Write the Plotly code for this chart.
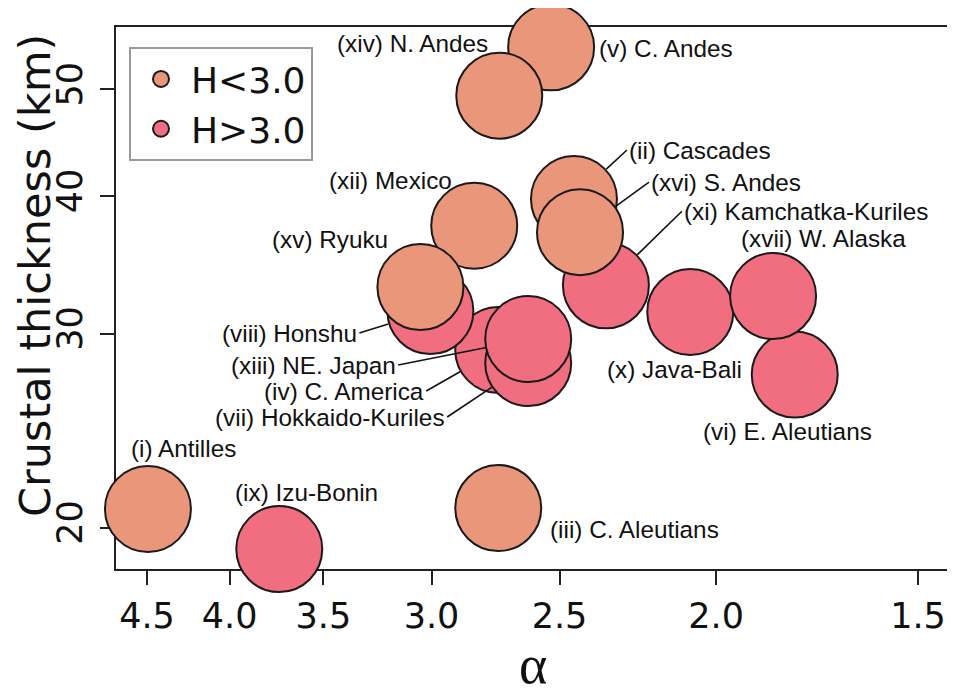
import math
import plotly.graph_objects as go

# subduction zones, listed in drawing order (pink group first, orange on top)
regions = [
    "(iv) C. America", "(viii) Honshu", "(vii) Hokkaido-Kuriles", "(xiii) NE. Japan",
    "(xi) Kamchatka-Kuriles", "(x) Java-Bali", "(vi) E. Aleutians", "(xvii) W. Alaska",
    "(ix) Izu-Bonin",
    "(v) C. Andes", "(xiv) N. Andes", "(xii) Mexico", "(xv) Ryuku", "(ii) Cascades",
    "(xvi) S. Andes", "(i) Antilles", "(iii) C. Aleutians",
]
alpha = [2.728, 3.005, 2.614, 2.614, 2.340, 2.075, 1.788, 1.844, 3.727,
         2.530, 2.724, 2.823, 3.048, 2.449, 2.428, 4.494, 2.728]
thickness = [29.0, 31.46, 28.22, 29.67, 33.2, 31.4, 27.55, 32.46, 19.13,
             54.6, 49.35, 37.6, 33.08, 39.76, 37.1, 20.8, 20.84]
h_group = ["H>3.0"] * 9 + ["H<3.0"] * 8

x_ticks = [4.5, 4.0, 3.5, 3.0, 2.5, 2.0, 1.5]
y_ticks = [20, 30, 40, 50]

colors = {"H<3.0": "#E9967A", "H>3.0": "#F06E80"}
rank = {"H<3.0": 1, "H>3.0": 2}

# label placement (pixels from the point); arrow labels get a leader line
label_pos = {
    "(i) Antilles": (36, -61, None),
    "(ix) Izu-Bonin": (27, -57, None),
    "(iii) C. Aleutians": (136, 21, None),
    "(vi) E. Aleutians": (-7, 57, None),
    "(x) Java-Bali": (-16, 58, None),
    "(xvii) W. Alaska": (50, -58, None),
    "(v) C. Andes": (115, 1, None),
    "(xiv) N. Andes": (-87, -52, None),
    "(xii) Mexico": (-84, -45, None),
    "(xv) Ryuku": (-90, -48, None),
    "(viii) Honshu": (-71, 22, "right"),
    "(xiii) NE. Japan": (-130, 26, "right"),
    "(iv) C. America": (-72, 41, "right"),
    "(vii) Hokkaido-Kuriles": (-81, 54, "right"),
    "(ii) Cascades": (53, -49, "left"),
    "(xvi) S. Andes": (69, -50, "left"),
    "(xi) Kamchatka-Kuriles": (76, -74, "left"),
}

fig = go.Figure()

for grp in ["H>3.0", "H<3.0"]:
    idx = [i for i, g in enumerate(h_group) if g == grp]
    fig.add_trace(go.Scatter(
        x=[alpha[i] for i in idx],
        y=[thickness[i] for i in idx],
        text=[regions[i] for i in idx],
        mode="markers",
        name=grp,
        legendrank=rank[grp],
        cliponaxis=False,
        marker=dict(size=86, color=colors[grp], line=dict(color="#1a1a1a", width=2)),
        hoverinfo="text",
    ))

# annotations on log axes take log10 positions
label_font = dict(family="Liberation Sans, Arial, sans-serif", size=24.3, color="#111111")
for name, a, t in zip(regions, alpha, thickness):
    dx, dy, anchor = label_pos[name]
    lx, ly = math.log10(a), math.log10(t)
    if anchor is None:
        fig.add_annotation(x=lx, y=ly, xref="x", yref="y", text=name, showarrow=False,
                           xshift=dx, yshift=-dy, font=label_font)
    else:
        fig.add_annotation(x=lx, y=ly, xref="x", yref="y", text=name, showarrow=True,
                           ax=dx, ay=dy, xanchor=anchor, yanchor="middle",
                           arrowhead=0, arrowwidth=1.6, arrowcolor="#111111",
                           standoff=44, font=label_font)

# axis titles
fig.add_annotation(x=-0.097, y=0.541, xref="paper", yref="paper", text="Crustal thickness (km)",
                   textangle=-90, showarrow=False, xanchor="center", yanchor="middle",
                   font=dict(family="DejaVu Sans", size=43, color="#111111"))
fig.add_annotation(x=0.5, y=-0.177, xref="paper", yref="paper", text="α",
                   showarrow=False, xanchor="center", yanchor="middle",
                   font=dict(family="Liberation Serif, serif", size=54, color="#111111"))

axis_common = dict(
    showgrid=False, zeroline=False, showline=True, mirror=True,
    linecolor="#222222", linewidth=2, ticks="outside", ticklen=14, tickwidth=2,
    tickcolor="#222222", layer="below traces",
    tickfont=dict(family="DejaVu Sans", size=35, color="#111111"),
)

fig.update_xaxes(type="log", range=[0.6724, 0.1569],
                 tickvals=x_ticks, ticktext=[f"{v:.1f}" for v in x_ticks],
                 ticklabelstandoff=1, **axis_common)
fig.update_yaxes(type="log", range=[1.2636, 1.7556],
                 tickvals=y_ticks, ticktext=[str(v) for v in y_ticks],
                 tickangle=-90, ticklabelstandoff=4, **axis_common)

# page body adds an 8px offset, so the figure is sized to the visible window
fig.update_layout(
    width=947, height=691,
    margin=dict(l=108, r=4, t=19, b=130),
    paper_bgcolor="white", plot_bgcolor="white",
    showlegend=True,
    legend=dict(x=0.0156, y=0.963, xanchor="left", yanchor="top",
                bordercolor="#9a9a9a", borderwidth=2, bgcolor="white",
                font=dict(family="DejaVu Sans", size=36, color="#111111"),
                itemwidth=50, entrywidth=180, traceorder="normal"),
)

fig.write_html("out.html")
